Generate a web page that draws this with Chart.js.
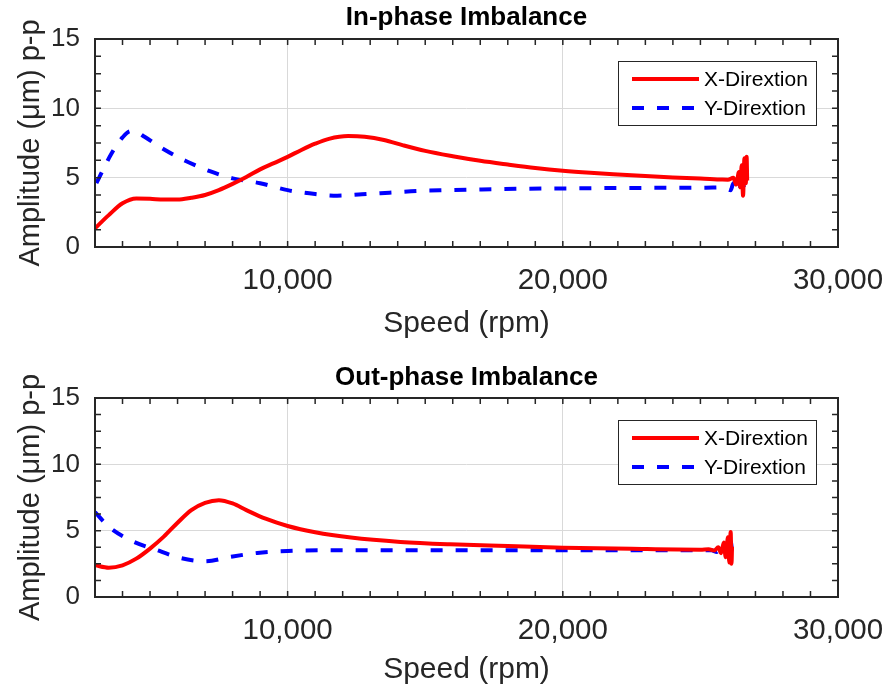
<!DOCTYPE html>
<html>
<head>
<meta charset="utf-8">
<script src="https://cdn.jsdelivr.net/npm/chart.js@4"></script>
<style>
html, body { margin: 0; padding: 0; background: #fff; }
#wrap { position: relative; width: 889px; height: 691px; }
.panel { position: absolute; left: 0; width: 889px; }
</style>
</head>
<body>
<div id="wrap">
  <div class="panel" style="top:0"><canvas id="inPhase" width="889" height="345"></canvas></div>
  <div class="panel" style="top:345px"><canvas id="outPhase" width="889" height="346"></canvas></div>
</div>
<script>
// ---- data ----
const inPhaseXSpeed = [3000, 3500, 4000, 4500, 5000, 5500, 6000, 6500, 7000, 7500, 8000, 8500, 9000, 9500, 10000, 10500, 11000, 11500, 12200, 12800, 13500, 14200, 15000, 16000, 17000, 18000, 19000, 20000, 21000, 22000, 23000, 24000, 25000, 25800, 26000, 26200, 26300, 26400, 26450, 26500, 26550, 26600, 26650, 26680, 26700];
const inPhaseXAmp   = [1.35, 2.3, 3.15, 3.5, 3.48, 3.42, 3.42, 3.55, 3.75, 4.1, 4.55, 5.05, 5.6, 6.05, 6.5, 7.0, 7.45, 7.8, 8.0, 7.95, 7.72, 7.33, 6.93, 6.55, 6.22, 5.95, 5.7, 5.5, 5.35, 5.23, 5.12, 5.02, 4.94, 4.86, 4.85, 5.0, 4.5, 5.4, 4.3, 5.9, 3.7, 6.4, 4.6, 6.5, 4.8];

const inPhaseYSpeed = [3050, 3300, 3600, 4000, 4300, 4500, 4800, 5500, 6300, 7200, 8000, 9000, 10000, 11000, 11800, 12700, 13700, 14700, 15800, 17000, 18500, 20400, 22500, 25200, 25800, 26100, 26200, 26300, 26400, 26500, 26550, 26600];
const inPhaseYAmp   = [4.6, 5.6, 6.75, 7.9, 8.35, 8.3, 7.95, 7.05, 6.2, 5.45, 4.95, 4.6, 4.1, 3.82, 3.7, 3.8, 3.92, 4.04, 4.1, 4.15, 4.2, 4.23, 4.26, 4.28, 4.3, 4.1, 4.6, 4.0, 4.8, 3.8, 4.7, 3.75];

const outPhaseXSpeed = [3000, 3500, 4000, 4500, 5000, 5500, 6000, 6500, 7000, 7500, 8000, 8500, 9200, 10000, 11000, 12300, 14100, 15900, 18000, 20000, 22500, 25000, 25300, 25500, 25650, 25750, 25850, 25920, 26000, 26050, 26100, 26130, 26150];
const outPhaseXAmp   = [2.39, 2.21, 2.39, 2.89, 3.65, 4.55, 5.6, 6.55, 7.1, 7.3, 7.05, 6.55, 5.9, 5.35, 4.88, 4.48, 4.15, 3.97, 3.84, 3.72, 3.63, 3.57, 3.6, 3.5, 3.75, 3.3, 4.1, 3.0, 4.5, 2.6, 4.9, 2.5, 3.8];

const outPhaseYSpeed = [3000, 3500, 4300, 5200, 6100, 7000, 7900, 8900, 10000, 11700, 15000, 20000, 25000, 25400, 25600, 25700, 25800, 25900, 26000, 26100, 26150];
const outPhaseYAmp   = [6.4, 5.3, 4.27, 3.57, 2.94, 2.69, 3.02, 3.32, 3.47, 3.52, 3.52, 3.52, 3.52, 3.52, 3.4, 3.6, 3.3, 3.8, 3.2, 4.2, 3.5];

const seriesLabels = ['X-Dirextion', 'Y-Dirextion'];
const speedMin = 3000, speedMax = 30000, speedMinorStep = 1000, speedMajorStep = 10000;
const ampMin = 0, ampMax = 15, ampMinorStep = 1.25, ampMajorStep = 5;

const FONT = '"Liberation Sans", Arial, Helvetica, sans-serif';
const INK = '#262626';

function points(xs, ys) {
  return xs.map((x, i) => ({ x: x, y: ys[i] }));
}

function isMajor(v, step) {
  const r = v / step;
  return Math.abs(r - Math.round(r)) < 1e-6;
}

function stepTicks(scale, lo, hi, step) {
  const out = [];
  for (let i = 0; lo + i * step <= hi + 1e-9; i++) out.push({ value: lo + i * step });
  scale.ticks = out;
}

// box round the axes plus MATLAB style inward ticks on all four sides
const axesBox = {
  id: 'axesBox',
  afterDraw(chart) {
    const { ctx, chartArea: a, scales } = chart;
    const len = 6;
    ctx.save();
    ctx.strokeStyle = INK;
    ctx.lineWidth = 1.5;
    ctx.beginPath();
    scales.x.ticks.forEach(t => {
      const px = scales.x.getPixelForValue(t.value);
      ctx.moveTo(px, a.bottom); ctx.lineTo(px, a.bottom - len);
      ctx.moveTo(px, a.top); ctx.lineTo(px, a.top + len);
    });
    scales.y.ticks.forEach(t => {
      const py = scales.y.getPixelForValue(t.value);
      ctx.moveTo(a.left, py); ctx.lineTo(a.left + len, py);
      ctx.moveTo(a.right, py); ctx.lineTo(a.right - len, py);
    });
    ctx.stroke();
    ctx.lineWidth = 2;
    ctx.strokeRect(a.left, a.top, a.right - a.left, a.bottom - a.top);
    ctx.restore();
  }
};

// boxed legend in the upper right corner of the axes
const boxLegend = {
  id: 'boxLegend',
  afterDatasetsDraw(chart) {
    const { ctx, chartArea: a } = chart;
    const w = 199, h = 65;
    const left = a.right - 21 - w, top = a.top + 22;
    ctx.save();
    ctx.fillStyle = '#fff';
    ctx.fillRect(left, top, w, h);
    ctx.strokeStyle = INK;
    ctx.lineWidth = 1;
    ctx.strokeRect(left + 0.5, top + 0.5, w - 1, h - 1);
    ctx.font = '21px ' + FONT;
    ctx.textBaseline = 'middle';
    chart.data.datasets.forEach((ds, i) => {
      const y = top + 18 + i * 29;
      ctx.beginPath();
      ctx.setLineDash(ds.borderDash || []);
      ctx.lineWidth = ds.borderWidth;
      ctx.strokeStyle = ds.borderColor;
      ctx.moveTo(left + 14, y);
      ctx.lineTo(left + 81, y);
      ctx.stroke();
      ctx.setLineDash([]);
      ctx.fillStyle = '#000';
      ctx.fillText(ds.label, left + 86, y + 1);
    });
    ctx.restore();
  }
};

function makeChart(id, title, xs1, ys1, xs2, ys2, titlePad, plotBottom) {
  const canvas = document.getElementById(id);
  const H = canvas.height;
  return new Chart(canvas.getContext('2d'), {
    type: 'line',
    data: {
      datasets: [
        {
          label: seriesLabels[0],
          data: points(xs1, ys1),
          borderColor: '#ff0000',
          borderWidth: 4,
          pointRadius: 0,
          cubicInterpolationMode: 'monotone'
        },
        {
          label: seriesLabels[1],
          data: points(xs2, ys2),
          borderColor: '#0000ff',
          borderWidth: 4,
          borderDash: [12, 13],
          pointRadius: 0,
          cubicInterpolationMode: 'monotone'
        }
      ]
    },
    options: {
      responsive: false,
      animation: false,
      events: [],
      layout: { padding: { left: 0, right: 51, top: 0, bottom: 0 } },
      plugins: {
        legend: { display: false },
        tooltip: { enabled: false },
        title: {
          display: true,
          fullSize: false,
          text: title,
          color: '#000',
          font: { family: FONT, size: 26, weight: 'bold', lineHeight: 1 },
          padding: titlePad
        }
      },
      scales: {
        x: {
          type: 'linear',
          min: speedMin,
          max: speedMax,
          afterBuildTicks: s => stepTicks(s, speedMin, speedMax, speedMinorStep),
          afterFit: s => { s.height = H - plotBottom; s.paddingLeft = 0; s.paddingRight = 0; },
          ticks: {
            autoSkip: false,
            maxRotation: 0,
            padding: 16,
            color: INK,
            font: { family: FONT, size: 29.5 },
            callback: v => isMajor(v, speedMajorStep) ? v.toLocaleString('en-US') : ''
          },
          grid: {
            drawTicks: false,
            lineWidth: 1,
            color: c => (c.tick && isMajor(c.tick.value, speedMajorStep) && c.tick.value > speedMin && c.tick.value < speedMax) ? '#d9d9d9' : 'rgba(0,0,0,0)'
          },
          border: { display: false },
          title: {
            display: true,
            text: 'Speed (rpm)',
            color: INK,
            font: { family: FONT, size: 30, lineHeight: 1.2 },
            padding: { top: 0, bottom: 3 }
          }
        },
        y: {
          min: ampMin,
          max: ampMax,
          afterBuildTicks: s => stepTicks(s, ampMin, ampMax, ampMinorStep),
          afterFit: s => { s.width = 95; },
          ticks: {
            autoSkip: false,
            padding: 15,
            color: INK,
            font: { family: FONT, size: 26 },
            callback: v => isMajor(v, ampMajorStep) ? String(v) : ''
          },
          grid: {
            drawTicks: false,
            lineWidth: 1,
            color: c => (c.tick && isMajor(c.tick.value, ampMajorStep) && c.tick.value > ampMin && c.tick.value < ampMax) ? '#d9d9d9' : 'rgba(0,0,0,0)'
          },
          border: { display: false },
          title: {
            display: true,
            text: 'Amplitude (\u03bcm) p-p',
            color: INK,
            font: { family: FONT, size: 29, lineHeight: 1.2 },
            padding: { top: 14, bottom: 0 }
          }
        }
      }
    },
    plugins: [axesBox, boxLegend]
  });
}

makeChart('inPhase', 'In-phase Imbalance', inPhaseXSpeed, inPhaseXAmp, inPhaseYSpeed, inPhaseYAmp, { top: 5, bottom: 8 }, 247);
makeChart('outPhase', 'Out-phase Imbalance', outPhaseXSpeed, outPhaseXAmp, outPhaseYSpeed, outPhaseYAmp, { top: 20, bottom: 7 }, 252);
</script>
</body>
</html>
